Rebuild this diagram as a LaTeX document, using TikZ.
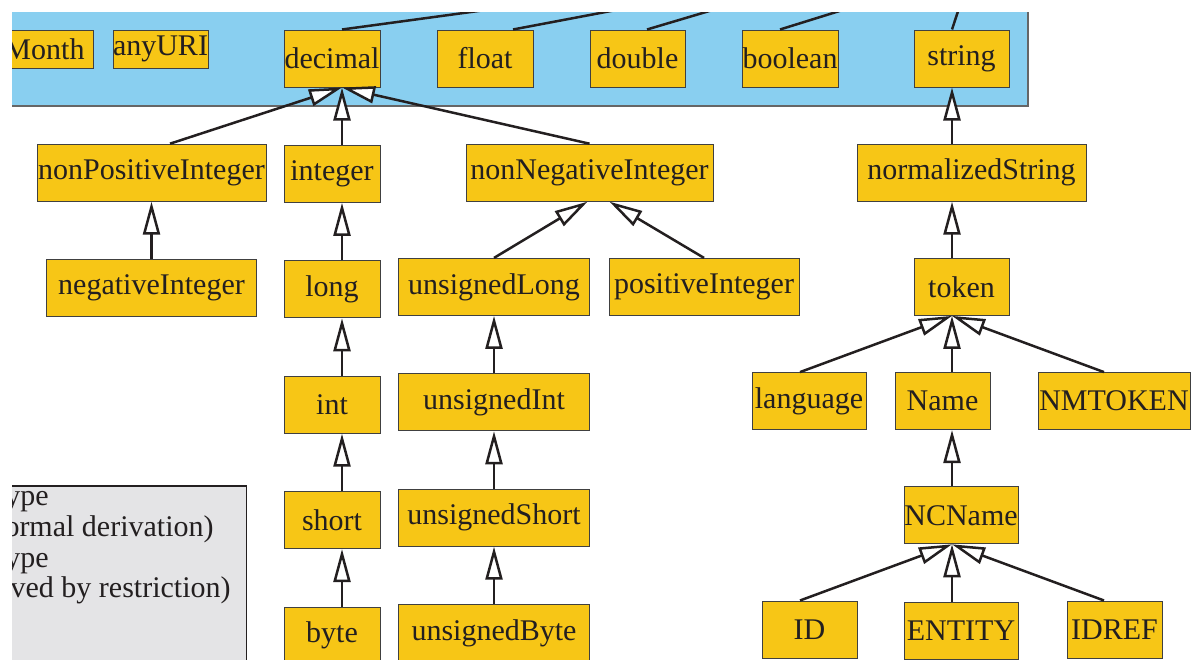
\documentclass[tikz,border=0pt]{standalone}
\usepackage{fontspec}
\setmainfont{Liberation Serif}
\usepackage{xcolor}
\usepackage{tikz}
\usetikzlibrary{arrows.meta, positioning}

\definecolor{typeyellow}{RGB}{247,198,22}
\definecolor{primblue}{RGB}{137,207,240}
\definecolor{legendgray}{RGB}{228,228,230}
\definecolor{inkdark}{RGB}{35,31,32}

\begin{document}
\begin{tikzpicture}[
    x=0.5pt, y=-0.5pt,
    font=\fontsize{15}{17}\selectfont,
    tbox/.style={
      draw=black!75,
      line width=0.5pt,
      fill=typeyellow,
      text=inkdark,
      inner sep=0pt,
      minimum height=28.5pt
    },
    inh/.style={
      draw=inkdark,
      line width=1.25pt,
      -{Triangle[fill=white, length=16.5pt, width=8.5pt]}
    },
    uplink/.style={draw=inkdark, line width=1.25pt},
    legtext/.style={anchor=base east, text=inkdark, inner sep=0pt},
    node distance=28.7pt
]
\useasboundingbox (0,0) rectangle (1192,659);

\begin{scope}
\clip (12,12) rectangle (1192,659);

% primitive types area
\fill[primblue] (-10,-10) rectangle (1028,106);
\draw[black!60, line width=0.75pt] (-10,106) -- (1028,106) -- (1028,-10);

% legend
\draw[fill=legendgray, draw=inkdark, line width=0.75pt] (-10,486) rectangle (246.5,700);
\node[legtext] (leg1) at (49,505) {ype};
\node[legtext] (leg2) at (214,536) {ormal derivation)};
\node[legtext] (leg3) at (49,567) {ype};
\node[legtext] (leg4) at (231,597) {ved by restriction)};

% spines of the arrows
\coordinate (numcol) at (342,0);
\coordinate (uscol) at (494,0);
\coordinate (strcol) at (952,0);
\coordinate (langcol) at (800,0);
\coordinate (tokcol) at (1104,0);

% lines up to the parent type (out of the picture)
\coordinate (up-decimal) at (633,-10);
\coordinate (up-float) at (722,-10);
\coordinate (up-double) at (780,-10);
\coordinate (up-boolean) at (907,-10);
\coordinate (up-string) at (965,-10);

% primitive types
\node[tbox, minimum height=19pt, inner xsep=4.5pt, anchor=north east] (month) at (94,30) {Month};
\node[tbox, minimum width=47.5pt, minimum height=19pt] (anyuri) at (160.5,49) {anyURI};
\node[tbox, minimum width=48pt] (decimal) at (332,58.5) {decimal};
\node[tbox, minimum width=48pt] (float) at (485,58.5) {float};
\node[tbox, minimum width=47.5pt] (double) at (637.5,58.5) {double};
\node[tbox, minimum width=48pt] (boolean) at (790,58.5) {boolean};
\node[tbox, minimum width=47.5pt] (string) at (961.5,58.5) {string};

% numeric types
\node[tbox, minimum width=114.5pt] (nonpos) at (151.5,172.7) {nonPositiveInteger};
\node[tbox, minimum width=48pt, below=of decimal] (integer) {integer};
\node[tbox, minimum width=123.5pt] (nonneg) at (589.5,172.7) {nonNegativeInteger};
\node[tbox, minimum width=105pt, below=of nonpos] (negint) {negativeInteger};
\node[tbox, minimum width=48pt, below=of integer] (long) {long};
\node[tbox, minimum width=95.25pt] (ulong) at (494,286.9) {unsignedLong};
\node[tbox, minimum width=95pt] (posint) at (704,286.9) {positiveInteger};
\node[tbox, minimum width=48pt, below=of long] (int) {int};
\node[tbox, minimum width=95.25pt, below=of ulong] (uint) {unsignedInt};
\node[tbox, minimum width=48pt, below=of int] (short) {short};
\node[tbox, minimum width=95.25pt, below=of uint] (ushort) {unsignedShort};
\node[tbox, minimum width=48pt, below=of short] (byte) {byte};
\node[tbox, minimum width=95.25pt, below=of ushort] (ubyte) {unsignedByte};

% string types
\node[tbox, minimum width=114.5pt] (normstr) at (971.5,172.7) {normalizedString};
\node[tbox, minimum width=47.5pt] (token) at (961.5,286.9) {token};
\node[tbox, minimum width=57pt] (language) at (809,401.1) {language};
\node[tbox, minimum width=47.5pt] (name) at (942.5,401.1) {Name};
\node[tbox, minimum width=76pt] (nmtoken) at (1114,401.1) {NMTOKEN};
\node[tbox, minimum width=57pt] (ncname) at (961,515.3) {NCName};
\node[tbox, minimum width=47.5pt] (id) at (809.5,629.5) {ID};
\node[tbox, minimum width=57pt, below=of ncname] (entity) {ENTITY};
\node[tbox, minimum width=47.5pt] (idref) at (1114.5,629.5) {IDREF};

\draw[uplink] (decimal.north -| numcol) -- (up-decimal);
\draw[uplink] ([xshift=14pt]float.north) -- (up-float);
\draw[uplink] ([xshift=4.75pt]double.north) -- (up-double);
\draw[uplink] ([xshift=-5pt]boolean.north) -- (up-boolean);
\draw[uplink] (string.north -| strcol) -- (up-string);

\draw[inh] ([xshift=9.25pt]nonpos.north) -- (decimal.south -| numcol);
\draw[inh] (integer.north -| numcol) -- (decimal.south -| numcol);
\draw[inh] (nonneg.north) -- (decimal.south -| numcol);
\draw[inh] (negint.north) -- (negint.north |- nonpos.south);
\draw[inh] (long.north -| numcol) -- (integer.south -| numcol);
\draw[inh] (int.north -| numcol) -- (long.south -| numcol);
\draw[inh] (short.north -| numcol) -- (int.south -| numcol);
\draw[inh] (byte.north -| numcol) -- (short.south -| numcol);
\draw[inh] (ulong.north) -- ([xshift=-1pt]nonneg.south);
\draw[inh] (posint.north) -- ([xshift=10pt]nonneg.south);
\draw[inh] (uint.north -| uscol) -- (ulong.south -| uscol);
\draw[inh] (ushort.north -| uscol) -- (uint.south -| uscol);
\draw[inh] (ubyte.north -| uscol) -- (ushort.south -| uscol);

\draw[inh] (normstr.north -| strcol) -- (string.south -| strcol);
\draw[inh] (token.north -| strcol) -- (normstr.south -| strcol);
\draw[inh] (language.north -| langcol) -- (token.south -| strcol);
\draw[inh] (name.north -| strcol) -- (token.south -| strcol);
\draw[inh] (nmtoken.north -| tokcol) -- (token.south -| strcol);
\draw[inh] (ncname.north -| strcol) -- (name.south -| strcol);
\draw[inh] (id.north -| langcol) -- (ncname.south -| strcol);
\draw[inh] (entity.north -| strcol) -- (ncname.south -| strcol);
\draw[inh] (idref.north -| tokcol) -- (ncname.south -| strcol);
\end{scope}
\end{tikzpicture}
\end{document}
